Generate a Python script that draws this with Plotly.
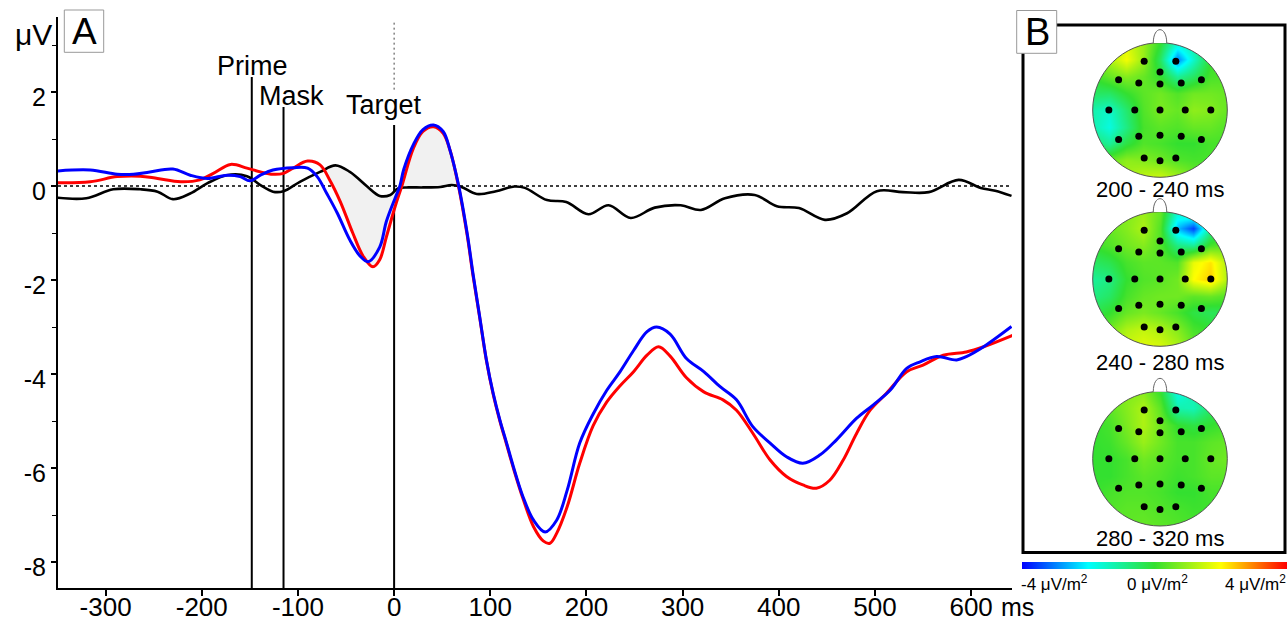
import numpy as np
import plotly.graph_objects as go

W, H = 1288, 623

# ---------------- data ----------------
red_t = [-350, -316, -288, -264, -246, -222, -202, -188, -170, -153, -139, -126, -115, -105, -90, -77,
         -67, -56, -43, -32, -22, -15, -8, 1, 8, 20, 30, 41, 51, 58, 67, 76, 82, 89, 96, 103, 110, 117,
         124, 134, 145, 155, 162, 169, 180, 193, 207, 221, 235, 249, 263, 275, 287, 304, 322, 342, 356,
         373, 391, 408, 425, 439, 453, 467, 481, 495, 512, 533, 550, 571, 595, 613, 644]
red_v = [0.07, 0.09, 0.20, 0.21, 0.16, 0.09, 0.13, 0.27, 0.46, 0.38, 0.30, 0.25, 0.27, 0.38, 0.53, 0.45,
         0.13, -0.33, -1.00, -1.50, -1.72, -1.57, -1.08, -0.44, 0.00, 0.80, 1.16, 1.26, 1.12, 0.77, -0.01,
         -1.05, -1.90, -2.80, -3.72, -4.43, -5.00, -5.50, -6.00, -6.65, -7.25, -7.55, -7.60, -7.39, -6.82,
         -5.90, -5.10, -4.60, -4.25, -3.95, -3.60, -3.42, -3.62, -4.08, -4.38, -4.55, -4.77, -5.26, -5.83,
         -6.18, -6.36, -6.43, -6.26, -5.83, -5.26, -4.77, -4.41, -3.95, -3.81, -3.60, -3.53, -3.42, -3.17]

blue_t = [-350, -316, -288, -271, -254, -230, -212, -194, -174, -160, -150, -139, -126, -105, -90, -80,
          -70, -59, -46, -35, -27, -15, -8, 1, 6, 10, 20, 30, 41, 51, 58, 67, 76, 82, 89, 96, 103, 110,
          117, 124, 134, 145, 157, 169, 180, 193, 207, 221, 235, 249, 263, 273, 287, 304, 322, 339, 356,
          373, 391, 408, 425, 443, 460, 481, 498, 516, 533, 547, 564, 585, 595, 613, 642]
blue_v = [0.32, 0.34, 0.25, 0.25, 0.30, 0.36, 0.23, 0.16, 0.23, 0.20, 0.11, 0.23, 0.34, 0.39, 0.38, 0.20,
          -0.16, -0.58, -1.15, -1.50, -1.61, -1.30, -0.75, -0.26, 0.00, 0.35, 0.88, 1.20, 1.30, 1.16, 0.77,
          0.02, -1.01, -1.86, -2.78, -3.70, -4.41, -4.98, -5.47, -5.97, -6.61, -7.11, -7.36, -7.11, -6.47,
          -5.47, -4.85, -4.35, -3.95, -3.50, -3.10, -3.00, -3.15, -3.67, -3.95, -4.27, -4.55, -5.12, -5.47,
          -5.76, -5.90, -5.72, -5.40, -4.94, -4.66, -4.34, -3.88, -3.74, -3.63, -3.70, -3.63, -3.42, -2.99]

diff_t = [-350, -320, -292, -264, -246, -230, -212, -194, -174, -153, -139, -126, -115, -98, -77, -61,
          -46, -28, -15, -4, 4, 15, 30, 48, 60, 70, 86, 106, 125, 136, 159, 179, 202, 223, 246, 271, 298,
          319, 344, 375, 398, 421, 448, 471, 502, 529, 556, 587, 610, 625, 642]
diff_v = [-0.25, -0.26, -0.07, -0.07, -0.12, -0.28, -0.16, 0.06, 0.23, 0.21, 0.02, -0.12, -0.11, 0.09,
          0.30, 0.44, 0.30, -0.01, -0.21, -0.19, -0.05, -0.03, -0.03, -0.02, 0.02, -0.02, -0.17, -0.11,
          -0.01, -0.04, -0.30, -0.34, -0.60, -0.41, -0.68, -0.46, -0.41, -0.51, -0.26, -0.19, -0.43, -0.47,
          -0.72, -0.58, -0.11, -0.13, -0.13, 0.13, -0.04, -0.10, -0.21]

shade_window = [-77, 67]

event_names = ["Prime", "Mask", "Target"]
event_times = [-148, -115, 0]
event_tops = [2.32, 1.68, 1.30]

x_ticks = [-300, -200, -100, 0, 100, 200, 300, 400, 500, 600]
y_major = [-8, -6, -4, -2, 0, 2]
y_minor = [-7, -5, -3, -1, 1, 3]

map_titles = ["200 - 240 ms", "240 - 280 ms", "280 - 320 ms"]
grid = [-1.0, -0.75, -0.5, -0.25, 0.0, 0.25, 0.5, 0.75, 1.0]
# rows from bottom (y=-1) to top (y=+1)
map1 = [
    [0.6, 0.8, 1.1, 1.4, 1.5, 1.1, 0.6, 0.4, 0.3],
    [0.3, 0.5, 0.9, 0.8, 0.6, 0.3, 0.2, 0.2, 0.2],
    [-0.6, -1.0, -0.2, 0.3, 0.2, 0.0, 0.0, 0.2, 0.2],
    [-1.2, -1.7, -0.8, 0.2, 0.4, 0.3, 0.5, 0.5, 0.3],
    [-1.2, -1.5, -0.6, 0.3, 0.7, 0.5, 0.9, 0.8, 0.5],
    [-0.5, -0.5, 0.0, 0.4, 0.6, 0.3, 0.6, 0.6, 0.5],
    [0.0, 0.5, 0.8, 0.5, 0.0, -1.0, -0.5, 0.2, 0.3],
    [0.5, 1.2, 1.9, 1.0, -0.5, -3.0, -1.5, 0.0, 0.2],
    [0.5, 1.0, 1.6, 1.0, 0.0, -1.5, -1.0, 0.0, 0.0],
]
map2 = [
    [0.5, 0.8, 1.5, 1.7, 1.6, 1.2, 0.5, 0.2, 0.2],
    [0.3, 0.6, 1.2, 1.4, 1.2, 0.8, 0.2, 0.0, 0.0],
    [-0.3, 0.0, 0.5, 0.7, 0.5, 0.2, -0.2, -0.4, -0.3],
    [-0.8, -0.5, 0.2, 0.5, 0.6, 0.6, 0.4, 0.5, 0.3],
    [-1.0, -0.8, 0.0, 0.3, 0.4, 0.6, 2.0, 2.4, 1.2],
    [-0.5, -0.3, 0.2, 0.4, 0.4, 0.3, 1.8, 2.2, 1.2],
    [0.0, 0.3, 0.6, 0.8, 0.3, -0.8, -1.0, 0.2, 0.5],
    [0.3, 0.5, 0.8, 1.2, 0.3, -2.5, -3.5, -1.0, 0.0],
    [0.3, 0.5, 0.8, 1.0, 0.5, -1.5, -1.0, 0.0, 0.0],
]
map3 = [
    [0.2, 0.3, 0.4, 0.5, 0.4, 0.3, 0.2, 0.1, 0.1],
    [0.2, 0.3, 0.4, 0.4, 0.3, 0.2, 0.1, 0.1, 0.1],
    [0.0, 0.2, 0.3, 0.3, 0.2, 0.0, 0.0, 0.2, 0.2],
    [0.0, 0.0, 0.2, 0.4, 0.3, 0.1, 0.2, 0.4, 0.4],
    [0.0, 0.0, 0.2, 0.6, 0.4, 0.2, 0.2, 0.5, 0.6],
    [0.0, 0.1, 0.5, 1.0, 0.6, 0.2, 0.2, 0.4, 0.5],
    [0.0, 0.2, 0.7, 1.2, 0.6, 0.0, -0.2, 0.0, 0.2],
    [0.2, 0.4, 0.8, 1.2, 0.4, -1.2, -1.3, -0.5, 0.0],
    [0.2, 0.4, 0.8, 0.8, 0.0, -1.8, -1.2, -0.3, 0.0],
]
maps = [map1, map2, map3]

elec_x = [-0.235, 0.235, 0.0, -0.615, -0.315, 0.0, 0.315, 0.615, -0.76, -0.375, 0.0, 0.375, 0.755,
          -0.615, -0.315, 0.0, 0.315, 0.615, -0.235, 0.0, 0.235]
elec_y = [0.725, 0.725, 0.565, 0.45, 0.40, 0.385, 0.40, 0.45, 0.0, 0.0, 0.0, 0.0, 0.0,
          -0.44, -0.39, -0.375, -0.39, -0.44, -0.715, -0.755, -0.715]

cbar_range = [-4, 4]
cbar_labels = ["-4 μV/m<sup>2</sup>", "0 μV/m<sup>2</sup>", "4 μV/m<sup>2</sup>"]

# ---------------- helpers ----------------
FONT = "Liberation Sans, Arial, sans-serif"


def fx(px):
    return px / W


def fy(py):
    return 1 - py / H


X_RANGE = [-349.5, 642.5]
Y_RANGE = [-8.553, 3.596]

fig = go.Figure()

# shaded region between difference wave and red wave
d_t = np.array(diff_t)
d_v = np.array(diff_v)
r_t = np.array(red_t)
r_v = np.array(red_v)
mb = (d_t >= shade_window[0]) & (d_t <= shade_window[1])
mr = (r_t >= shade_window[0]) & (r_t <= shade_window[1])
fig.add_trace(go.Scatter(x=d_t[mb], y=d_v[mb], mode="lines", line=dict(width=0, shape="spline"),
                         showlegend=False, hoverinfo="skip"))
fig.add_trace(go.Scatter(x=r_t[mr], y=r_v[mr], mode="lines", line=dict(width=0, shape="spline"),
                         fill="tonexty", fillcolor="#f1f1f1", showlegend=False, hoverinfo="skip"))

fig.add_trace(go.Scatter(x=diff_t, y=diff_v, mode="lines",
                         line=dict(color="black", width=2.6, shape="spline"), showlegend=False))
fig.add_trace(go.Scatter(x=red_t, y=red_v, mode="lines",
                         line=dict(color="#ff0000", width=3, shape="spline"), showlegend=False))
fig.add_trace(go.Scatter(x=blue_t, y=blue_v, mode="lines",
                         line=dict(color="#0000ff", width=3, shape="spline"), showlegend=False))

# ---------------- topographic maps ----------------
colorscale = [[0.0, "#0000ff"], [0.25, "#00ffff"], [0.5, "#33e030"], [0.75, "#ffff00"], [1.0, "#ff0000"]]
centers_y = [110, 279, 458.7]
R = 67.3
XR = [-1.16, 1.16]
YR = [-1.16, 1.30]
title_y = [190, 362, 538]

shapes = []
annotations = []
layout_axes = {}

theta = np.linspace(0, 2 * np.pi, 145)
circ = " ".join(("M" if i == 0 else "L") + f" {np.cos(a):.4f},{np.sin(a):.4f}" for i, a in enumerate(theta))
mask_path = "M -1.6,-1.6 L 1.6,-1.6 L 1.6,1.6 L -1.6,1.6 Z " + circ + " Z"

for i, (m, cy) in enumerate(zip(maps, centers_y)):
    k = i + 2
    xa, ya = f"x{k}", f"y{k}"
    layout_axes[f"xaxis{k}"] = dict(domain=[fx(1160 + R * XR[0]), fx(1160 + R * XR[1])], range=XR,
                                    visible=False, anchor=ya, fixedrange=True)
    layout_axes[f"yaxis{k}"] = dict(domain=[fy(cy - R * YR[0]), fy(cy - R * YR[1])], range=YR,
                                    visible=False, anchor=xa, fixedrange=True)
    hm = dict(x=grid, y=grid, z=m, zsmooth="best", colorscale=colorscale, zmin=cbar_range[0],
              zmax=cbar_range[1], xaxis=xa, yaxis=ya, hoverinfo="skip")
    if i == 0:
        hm.update(showscale=True, colorbar=dict(orientation="h", x=fx(1021.7), xanchor="left",
                                                len=265 / W, lenmode="fraction", y=fy(562),
                                                yanchor="top", thickness=7, outlinewidth=0,
                                                showticklabels=False, ticks="", xpad=0, ypad=0))
    else:
        hm.update(showscale=False)
    fig.add_trace(go.Heatmap(**hm))
    fig.add_trace(go.Scatter(x=elec_x, y=elec_y, mode="markers", xaxis=xa, yaxis=ya,
                             marker=dict(size=7, color="black"), showlegend=False, hoverinfo="skip"))
    shapes.append(dict(type="path", path=mask_path, xref=xa, yref=ya, fillcolor="white",
                       fillrule="evenodd", line=dict(width=0), layer="above"))
    shapes.append(dict(type="circle", x0=-1, x1=1, y0=-1, y1=1, xref=xa, yref=ya,
                       line=dict(color="#555555", width=1), layer="above"))
    shapes.append(dict(type="path", path="M -0.1,0.995 C -0.1,1.26 0.1,1.26 0.1,0.995", xref=xa, yref=ya,
                       fillcolor="white", line=dict(color="#666666", width=1), layer="above"))
    annotations.append(dict(text=map_titles[i], x=fx(1160), y=fy(title_y[i]), xref="paper", yref="paper",
                            showarrow=False, xanchor="center", yanchor="middle",
                            font=dict(family=FONT, size=22, color="black")))

# ---------------- main plot decorations ----------------
shapes.append(dict(type="line", xref="x", yref="y", x0=X_RANGE[0], x1=X_RANGE[1], y0=0, y1=0,
                   line=dict(color="black", width=1.5, dash="3px,3px"), layer="below"))
shapes.append(dict(type="line", xref="x", yref="y", x0=0, x1=0, y0=2.05, y1=3.53,
                   line=dict(color="#444444", width=1, dash="2px,3px"), layer="below"))
for t, top in zip(event_times, event_tops):
    shapes.append(dict(type="line", xref="x", yref="y", x0=t, x1=t, y0=Y_RANGE[0], y1=top,
                       line=dict(color="black", width=2), layer="below"))

label_pos = [(252, 66), (291, 96), (384, 105)]
for name, (px, py) in zip(event_names, label_pos):
    annotations.append(dict(text=name, x=fx(px), y=fy(py), xref="paper", yref="paper", showarrow=False,
                            xanchor="center", yanchor="middle",
                            font=dict(family=FONT, size=27, color="black")))

annotations.append(dict(text="μV", x=fx(33), y=fy(34), xref="paper", yref="paper", showarrow=False,
                        xanchor="center", yanchor="middle", font=dict(family=FONT, size=30, color="black")))
annotations.append(dict(text="ms", x=fx(999), y=fy(607), xref="paper", yref="paper", showarrow=False,
                        xanchor="left", yanchor="middle", font=dict(family=FONT, size=25, color="black")))

# panel frame for B
shapes.append(dict(type="rect", xref="paper", yref="paper", x0=fx(1023), x1=fx(1285), y0=fy(552.5),
                   y1=fy(25), line=dict(color="black", width=3), layer="above"))
# letter boxes
shapes.append(dict(type="rect", xref="paper", yref="paper", x0=fx(64.3), x1=fx(103.7), y0=fy(52.3),
                   y1=fy(10), line=dict(color="#999999", width=1), fillcolor="white", layer="above"))
shapes.append(dict(type="rect", xref="paper", yref="paper", x0=fx(1016.7), x1=fx(1056.7), y0=fy(53.3),
                   y1=fy(10.5), line=dict(color="#999999", width=1), fillcolor="white", layer="above"))
annotations.append(dict(text="A", x=fx(84), y=fy(32), xref="paper", yref="paper", showarrow=False,
                        xanchor="center", yanchor="middle", font=dict(family=FONT, size=37, color="black")))
annotations.append(dict(text="B", x=fx(1037), y=fy(32), xref="paper", yref="paper", showarrow=False,
                        xanchor="center", yanchor="middle", font=dict(family=FONT, size=38, color="black")))

# colorbar labels
cb_pos = [(1019, "left"), (1157, "center"), (1288, "right")]
for lab, (px, anc) in zip(cbar_labels, cb_pos):
    annotations.append(dict(text=lab, x=fx(px), y=fy(570), xref="paper", yref="paper", showarrow=False,
                            xanchor=anc, yanchor="top", font=dict(family=FONT, size=17, color="black")))

fig.update_layout(
    width=W, height=H, autosize=False, margin=dict(l=0, r=0, t=0, b=0, pad=0, autoexpand=False),
    paper_bgcolor="white", plot_bgcolor="white", showlegend=False,
    font=dict(family=FONT, color="black"),
    xaxis=dict(domain=[fx(58), fx(1012)], range=X_RANGE, showline=True, linecolor="black", linewidth=2,
               ticks="outside", ticklen=6, tickwidth=2, tickcolor="black", tickvals=x_ticks,
               ticktext=[str(v) for v in x_ticks], ticklabelstandoff=-11,
               tickfont=dict(family=FONT, size=26, color="black"), showgrid=False, zeroline=False,
               anchor="y", fixedrange=True),
    yaxis=dict(domain=[fy(588), fy(17)], range=Y_RANGE, showline=True, linecolor="black", linewidth=2,
               ticks="outside", ticklen=5, tickwidth=1.5, tickcolor="black", tickvals=y_major,
               ticktext=[str(v) for v in y_major], ticklabelshift=5,
               minor=dict(tickvals=y_minor, ticks="outside", ticklen=4, tickcolor="black", tickwidth=1),
               tickfont=dict(family=FONT, size=25, color="black"), showgrid=False, zeroline=False,
               anchor="x", fixedrange=True),
    shapes=shapes, annotations=annotations,
    **layout_axes,
)

fig.write_html("out.html", config={"displayModeBar": False, "responsive": False},
               post_script=("document.documentElement.style.margin='0px';"
                            "document.body.style.margin='0px';document.body.style.padding='0px';"
                            "document.documentElement.style.overflow='hidden';"))
